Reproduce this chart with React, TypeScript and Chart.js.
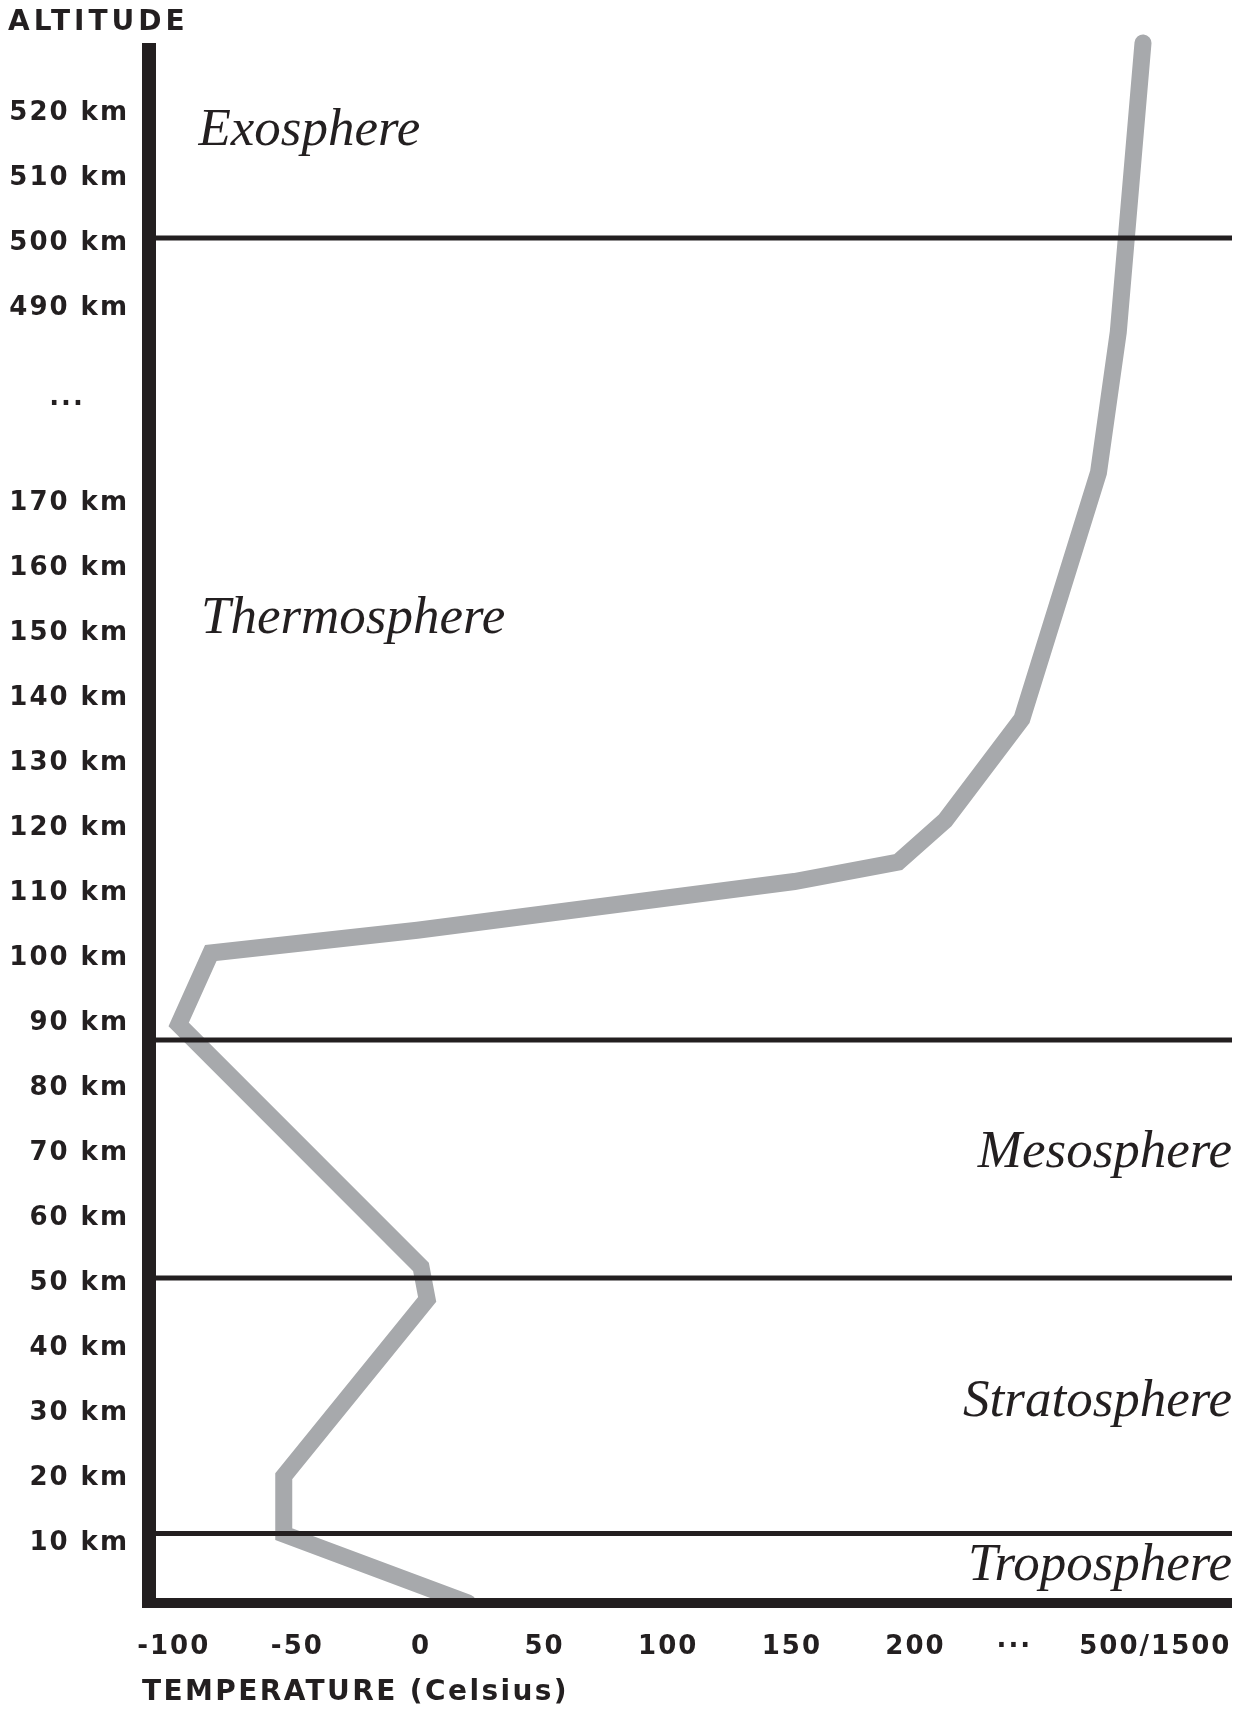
import React, { useEffect, useRef } from 'react';
import { Chart, registerables } from 'chart.js';

Chart.register(...registerables);

// ---- data ----
// temperature axis (broken axis: values beyond 200 are positions inside the compressed "···" part)
const TEMP_TICK_POS = [-100, -50, 0, 50, 100, 150, 200, 240, 297];
const TEMP_TICK_LABELS = ['-100', '-50', '0', '50', '100', '150', '200', '···', '500/1500'];
const TEMP_MIN = -110;
const TEMP_MAX = 328;

// altitude axis (axis units: 1 unit = 10 km up to 170 km, then a break, 490 km at unit 20)
const ALT_TICK_POS = [1, 2, 3, 4, 5, 6, 7, 8, 9, 10, 11, 12, 13, 14, 15, 16, 17, 18.5, 20, 21, 22, 23];
const ALT_TICK_LABELS = [
  '10 km', '20 km', '30 km', '40 km', '50 km', '60 km', '70 km', '80 km', '90 km', '100 km',
  '110 km', '120 km', '130 km', '140 km', '150 km', '160 km', '170 km', '···    ',
  '490 km', '500 km', '510 km', '520 km',
];
const ALT_MIN = 0;
const ALT_MAX = 24;

// temperature profile
const PROFILE_ALT_KM = [0, 10.6, 19.5, 46.7, 51.7, 89, 100, 103.5, 111, 114, 120.4, 136, 173.9, 485.5, 530];
const PROFILE_TEMP = [19, -55.5, -55.5, 2.5, 0, -98, -85, -1.5, 151, 193, 212, 243, 274, 282, 292];

// layer boundaries (km)
const BOUNDARY_KM = [10.7, 50, 86.6, 500];

// layer names
const LAYER_NAMES = ['Exosphere', 'Thermosphere', 'Mesosphere', 'Stratosphere', 'Troposphere'];
const LAYER_LABEL_TEMP = [-90, -89, TEMP_MAX, TEMP_MAX, TEMP_MAX];
const LAYER_LABEL_ALT = [22.43, 14.92, 6.71, 2.88, 0.35];
const LAYER_LABEL_ALIGN: CanvasTextAlign[] = ['left', 'left', 'right', 'right', 'right'];

const Y_TITLE = 'ALTITUDE';
const X_TITLE = 'TEMPERATURE (Celsius)';

const INK = '#231f20';
const GREY = '#a7a9ac';
const SANS = '"DejaVu Sans", sans-serif';
const SERIF = '"Liberation Serif", serif';

function altPos(km: number): number {
  return km <= 180 ? km / 10 : 20 + (km - 490) / 10;
}

const spacingPlugin = {
  id: 'spacing',
  beforeLayout(chart: any) {
    chart.ctx.letterSpacing = '2px';
  },
  beforeDraw(chart: any) {
    chart.ctx.letterSpacing = '2px';
  },
};

const axesPlugin = {
  id: 'axesFrame',
  afterDatasetsDraw(chart: any) {
    const { ctx, chartArea } = chart;
    const { left, right, top, bottom } = chartArea;
    ctx.save();
    ctx.fillStyle = INK;
    ctx.fillRect(left - 7, top, 14, bottom + 5 - top);
    ctx.fillRect(left - 7, bottom - 5, right - (left - 7), 10);
    ctx.restore();
  },
};

const textPlugin = {
  id: 'texts',
  afterDraw(chart: any) {
    const { ctx, chartArea } = chart;
    const xs = chart.scales.x;
    const ys = chart.scales.y;
    ctx.save();
    ctx.fillStyle = INK;
    ctx.letterSpacing = '0px';
    ctx.font = `italic 53px ${SERIF}`;
    ctx.textBaseline = 'alphabetic';
    LAYER_NAMES.forEach((name, i) => {
      ctx.textAlign = LAYER_LABEL_ALIGN[i];
      ctx.fillText(name, xs.getPixelForValue(LAYER_LABEL_TEMP[i]), ys.getPixelForValue(LAYER_LABEL_ALT[i]));
    });
    ctx.textAlign = 'left';
    ctx.textBaseline = 'middle';
    ctx.font = `bold 28px ${SANS}`;
    ctx.letterSpacing = '4px';
    ctx.fillText(Y_TITLE, 8, chartArea.top - 20);
    ctx.letterSpacing = '2.4px';
    ctx.fillText(X_TITLE, chartArea.left - 7, chartArea.bottom + 90);
    ctx.restore();
  },
};

export default function App() {
  const canvasRef = useRef<HTMLCanvasElement | null>(null);

  useEffect(() => {
    const canvas = canvasRef.current;
    if (!canvas) return;

    const boundaryDatasets = BOUNDARY_KM.map((km) => ({
      data: [
        { x: TEMP_MIN, y: altPos(km) },
        { x: TEMP_MAX, y: altPos(km) },
      ],
      borderColor: INK,
      backgroundColor: INK,
      borderWidth: 5,
      pointRadius: 0,
      showLine: true,
      order: 0,
      clip: 0,
    }));

    const profile = {
      data: PROFILE_TEMP.map((t, i) => ({ x: t, y: altPos(PROFILE_ALT_KM[i]) })),
      borderColor: GREY,
      backgroundColor: GREY,
      borderWidth: 17,
      borderCapStyle: 'round',
      borderJoinStyle: 'miter',
      pointRadius: 0,
      showLine: true,
      tension: 0,
      order: 1,
      clip: { left: 0, right: 0, top: 12, bottom: 0 },
    };

    const chart = new Chart(canvas, {
      type: 'scatter',
      data: { datasets: [...boundaryDatasets, profile] as any },
      options: {
        animation: false,
        responsive: false,
        maintainAspectRatio: false,
        devicePixelRatio: 1,
        layout: { padding: { top: 43, right: 14, left: 0, bottom: 0 } },
        plugins: { legend: { display: false }, tooltip: { enabled: false } },
        scales: {
          x: {
            type: 'linear',
            position: 'bottom',
            min: TEMP_MIN,
            max: TEMP_MAX,
            grid: { display: false, drawTicks: false },
            border: { display: false },
            ticks: {
              autoSkip: false,
              maxRotation: 0,
              minRotation: 0,
              padding: 29,
              color: INK,
              font: { family: SANS, size: 26, weight: 'bold' },
              callback: (_v: any, i: number) => TEMP_TICK_LABELS[i] ?? '',
            },
            afterBuildTicks: (s: any) => {
              s.ticks = TEMP_TICK_POS.map((v) => ({ value: v }));
            },
            afterFit: (s: any) => {
              s.height = 113;
              s.paddingLeft = 0;
              s.paddingRight = 0;
            },
          },
          y: {
            type: 'linear',
            min: ALT_MIN,
            max: ALT_MAX,
            grid: { display: false, drawTicks: false },
            border: { display: false },
            ticks: {
              autoSkip: false,
              padding: 20,
              labelOffset: 5,
              color: INK,
              font: { family: SANS, size: 26, weight: 'bold' },
              callback: (_v: any, i: number) => ALT_TICK_LABELS[i] ?? '',
            },
            afterBuildTicks: (s: any) => {
              s.ticks = ALT_TICK_POS.map((v) => ({ value: v }));
            },
            afterFit: (s: any) => {
              s.width = 149;
              s.paddingTop = 0;
              s.paddingBottom = 0;
            },
          },
        },
      } as any,
      plugins: [spacingPlugin, axesPlugin, textPlugin],
    });

    return () => chart.destroy();
  }, []);

  return (
    <div style={{ position: 'absolute', left: 0, top: 0, width: 1246, height: 1716, background: '#ffffff' }}>
      <canvas ref={canvasRef} width={1246} height={1716} style={{ display: 'block' }} />
    </div>
  );
}
